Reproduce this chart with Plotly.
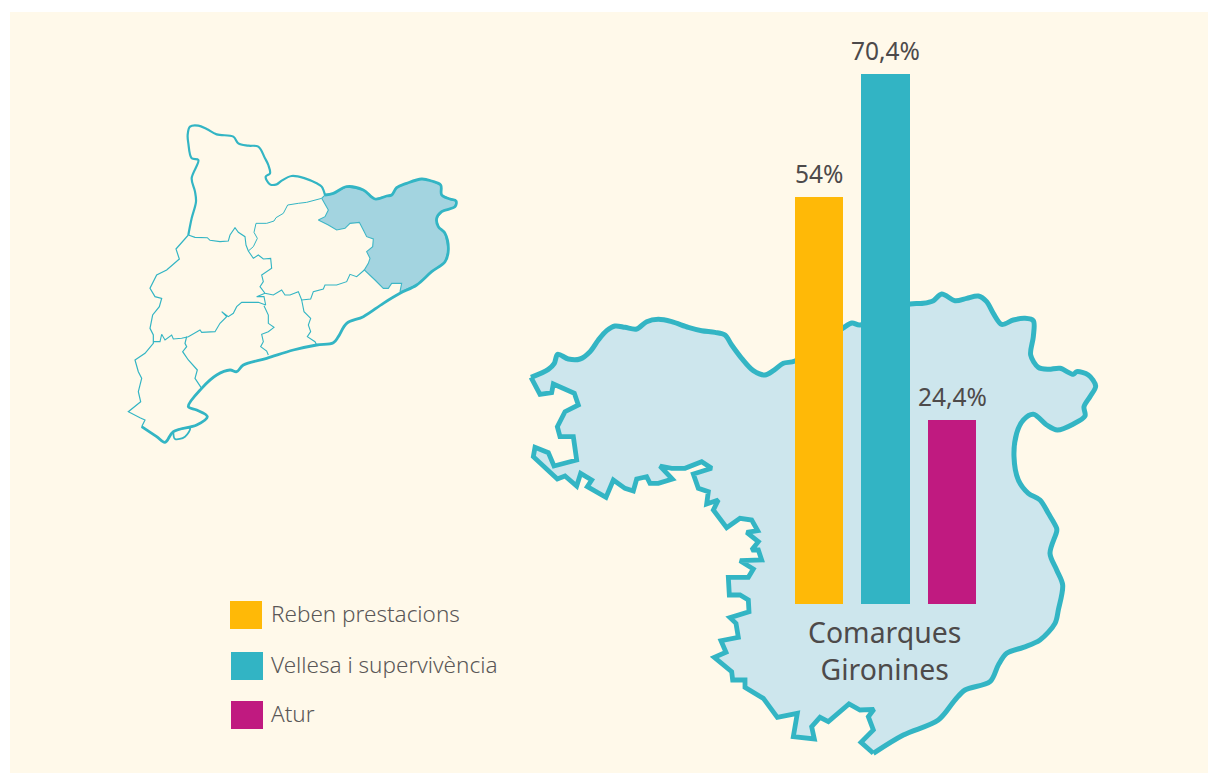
import plotly.graph_objects as go

# ---------- data ----------
categories = ["Reben prestacions", "Vellesa i supervivència", "Atur"]
values = [54, 70.4, 24.4]
value_labels = ["54%", "70,4%", "24,4%"]
bar_colors = ["#ffb907", "#32b4c4", "#c01a80"]
map_title = "Comarques<br>Gironines"

# Large map outline, traced in survey units (several sheets, each 3 units per pixel)
north_sheet = [(18,232),(70,208),(88,190),(98,163),(130,177),(165,177),(195,155),(220,120),(245,92),(270,78),(300,82),(335,87),(365,65),(400,58),(440,65),(490,82),(530,92),(570,97),(600,105),(620,135),(650,175),(685,212),(720,225),(745,212),(775,190),(810,183),(954,84),(981,69),(1005,75)]
east_sheet = [(30,72),(70,70),(100,62),(125,42),(165,62),(200,55),(235,48),(260,65),(280,100),(305,133),(340,120),(375,115),(400,122),(400,170),(392,225),(415,262),(445,268),(480,265),(520,283),(530,275),(565,285),(587,318),(570,350),(552,380),(555,408),(520,432),(472,450),(440,435),(400,403),(370,420),(350,460),(342,530),(355,600),(385,640),(420,660),(445,700),(470,745)]
south_east_sheet = [(470,35),(450,100),(470,150),(488,195),(475,270),(465,310),(420,360),(370,382),(320,400),(295,435),(270,485),(195,510),(165,540),(115,600)]
south_sheet = [(640,705),(550,760),(513,727),(550,690),(535,650),(552,628),(510,630),(477,612),(415,665),(390,652),(365,680),(373,717),(310,710),(322,640),(262,652),(220,595),(165,562),(165,540),(128,540),(125,515),(73,472),(108,457),(93,422),(145,412),(138,370),(120,353),(177,335),(175,300),(150,285),(118,285),(115,232),(175,232),(190,207),(150,182),(215,180),(205,150),(185,150),(205,125),(170,97),(203,92),(185,60),(150,55),(110,83)]
west_sheet = [(565,630),(580,600),(545,612),(550,575),(520,565),(505,522),(560,505),(530,485),(480,505),(440,505),(405,498),(442,537),(400,550),(375,550),(365,530),(335,537),(325,573),(300,565),(265,540),(243,592),(187,560),(200,540),(167,520),(155,558),(120,528),(97,537),(25,470),(30,442),(70,458),(87,498),(155,480),(145,410),(105,410),(97,380),(120,335),(160,315),(148,280),(85,252),(80,278),(45,283),(18,232)]

# Small map, one sheet at 3 units per pixel
coast = [(615,240),(640,235),(680,215),(730,225),(765,252),(800,243),(815,240),(830,218),(860,205),(905,192),(935,198),(962,210),(965,240),(990,252),(1008,258),(1005,275),(965,290),(950,310),(955,335),(975,355),(985,405),(975,440),(935,470),(890,510),(840,535),(790,565),(730,605),(680,625),(655,665),(640,683),(590,690),(520,705),(440,730),(370,750),(350,770),(330,765),(290,780),(245,820),(205,875),(230,885),(262,905),(230,930),(160,950),(135,982),(110,965),(65,935)]
delta = [(160,950),(165,972),(195,965),(210,940),(170,945)]
north_border = [(615,240),(605,215),(590,205),(555,190),(515,183),(485,197),(470,208),(450,208),(437,185),(450,175),(445,150),(435,130),(415,95),(385,92),(355,85),(340,65),(290,58),(260,42),(235,32),(210,35),(203,60),(205,85),(215,130),(235,135),(215,190),(225,230),(228,260),(215,310),(205,360)]
west_border = [(205,360),(168,402),(178,432),(140,465),(110,480),(90,520),(105,545),(125,550),(118,575),(98,600),(90,640),(100,660),(100,685),(75,715),(45,735),(55,770),(65,790),(55,830),(62,860),(25,890),(60,908),(75,915),(65,935)]
girona_area = [(605,250),(615,240),(640,235),(680,215),(730,225),(765,252),(800,243),(815,240),(830,218),(860,205),(905,192),(935,198),(962,210),(965,240),(990,252),(1008,258),(1005,275),(965,290),(950,310),(955,335),(975,355),(985,405),(975,440),(935,470),(890,510),(840,530),(845,505),(815,505),(805,520),(790,520),(765,495),(733,465),(745,445),(750,430),(740,410),(758,395),(760,372),(740,365),(730,345),(718,322),(690,325),(675,340),(650,345),(625,330),(595,315),(615,305),(625,285),(605,250)]
inner_a = [(205,360),(225,367),(262,368),(270,376),(300,380),(325,378),(330,360),(345,338),(355,352),(375,365),(378,390),(385,408),(400,430),(415,420),(430,432),(452,430),(455,460),(440,470),(425,480),(430,500),(420,515),(435,535),(460,540),(485,525),(495,540),(510,540),(535,530),(545,555),(572,552),(580,530),(610,522),(615,510),(650,510),(680,500),(690,478),(710,485),(733,465)]
inner_b = [(385,408),(400,395),(412,370),(402,352),(408,325),(440,325),(462,318),(468,308),(490,295),(503,270),(535,265),(560,262),(605,250)]
inner_c = [(435,535),(410,545),(432,545),(437,570),(415,562),(365,562),(350,575),(340,595),(325,605),(305,590),(320,605),(300,625),(285,650),(245,652),(240,645),(205,665),(185,670),(160,672),(155,660),(135,675),(125,658),(120,680),(100,680)]
inner_d = [(545,555),(552,590),(572,610),(565,630),(572,650),(562,665),(585,680),(590,690)]
inner_e = [(432,572),(445,600),(445,625),(462,637),(445,650),(425,658),(430,680),(422,695),(440,708),(445,720)]
inner_f = [(200,665),(195,685),(200,695),(188,710),(205,735),(232,765),(225,790),(245,820)]

# ---------- look ----------
W, H = 1208, 773
CREAM = "#fff9ea"
TEAL = "#33b5c4"
TEXT = "#4d4a4a"
BODY = "Noto Sans, Open Sans, sans-serif"


def sheet(points, ox, oy):
    return [ox + p[0] / 3 for p in points], [oy + p[1] / 3 for p in points]


def chain(parts):
    out_x, out_y = [], []
    for pts, ox, oy in parts:
        xs, ys = sheet(pts, ox, oy)
        out_x += xs
        out_y += ys
    return out_x, out_y


smooth_x, smooth_y = chain([(north_sheet, 525, 300), (east_sheet, 900, 280), (south_east_sheet, 900, 520),
                            (south_sheet[:2], 690, 500)])
jag_x, jag_y = chain([(south_sheet[1:], 690, 500), (west_sheet, 525, 300)])

fig = go.Figure()
fig.add_trace(go.Scatter(x=smooth_x + jag_x, y=smooth_y + jag_y, mode="lines", fill="toself", fillcolor="#cde6ed",
                         line=dict(width=0), hoverinfo="skip"))
fig.add_trace(go.Scatter(x=smooth_x, y=smooth_y, mode="lines",
                         line=dict(color=TEAL, width=5, shape="spline", smoothing=0.9), hoverinfo="skip"))
fig.add_trace(go.Scatter(x=jag_x, y=jag_y, mode="lines", line=dict(color=TEAL, width=4.8), hoverinfo="skip"))

xs, ys = sheet(girona_area, 120, 115)
fig.add_trace(go.Scatter(x=xs, y=ys, mode="lines", fill="toself", fillcolor="#a3d4e0",
                         line=dict(color="#3fb6c6", width=1.1), hoverinfo="skip"))
for pts, w, shp in [(inner_a, 1.1, "linear"), (inner_b, 1, "linear"), (inner_c, 1.1, "linear"),
                    (inner_d, 1.1, "linear"), (inner_e, 1.1, "linear"), (inner_f, 1.2, "linear"),
                    (west_border, 1.2, "linear"), (north_border, 2.2, "spline"), (coast, 2.8, "spline"),
                    (delta, 1.8, "spline")]:
    xs, ys = sheet(pts, 120, 115)
    fig.add_trace(go.Scatter(x=xs, y=ys, mode="lines", line=dict(color=TEAL, width=w, shape=shp),
                             hoverinfo="skip"))

# Bars live on their own overlay axes: 0 at y=604 px, 7.535 px per percentage point
fig.add_trace(go.Bar(x=categories, y=values, marker=dict(color=bar_colors, line=dict(width=0)),
                     width=[0.73, 0.75, 0.73], xaxis="x2", yaxis="y2", hoverinfo="skip"))

annotations = []
for c, v, lab in zip(categories, values, value_labels):
    annotations.append(dict(x=c, y=v, xref="x2", yref="y2", text=lab, showarrow=False, yanchor="bottom",
                            yshift=5, font=dict(family=BODY, size=24.5, color=TEXT)))
annotations.append(dict(x=884.5, y=650.5, xref="x", yref="y", text=map_title, showarrow=False,
                        font=dict(family=BODY, size=28.4, color=TEXT)))

shapes = [dict(type="rect", xref="x", yref="y", x0=10, x1=W, y0=12, y1=H, fillcolor=CREAM,
               line=dict(width=0), layer="below")]
for c, col, (sx0, sy0) in zip(categories, bar_colors, [(230, 601), (231, 652), (231, 701)]):
    shapes.append(dict(type="rect", xref="x", yref="y", x0=sx0, x1=sx0 + 32, y0=sy0, y1=sy0 + 28,
                       fillcolor=col, line=dict(width=0)))
    annotations.append(dict(x=269, y=sy0 + 12.5, xref="x", yref="y", text=c, showarrow=False, xanchor="left",
                            font=dict(family=BODY, size=22.5, color="#5a5757", weight=300)))

fig.update_layout(
    width=W, height=H, margin=dict(l=0, r=0, t=0, b=0), showlegend=False, bargap=0,
    paper_bgcolor="white", plot_bgcolor="white", shapes=shapes, annotations=annotations,
    xaxis=dict(range=[0, W], visible=False, domain=[0, 1]),
    yaxis=dict(range=[H, 0], visible=False, domain=[0, 1]),
    xaxis2=dict(overlaying="x", type="category", categoryorder="array", categoryarray=categories,
                range=[-819 / 66.5, (W - 819) / 66.5], visible=False),
    yaxis2=dict(overlaying="y", range=[-(H - 604) / 7.535, 604 / 7.535], visible=False),
)
fig.write_html("out.html", config={"displayModeBar": False}, post_script="document.body.style.margin='0';")
